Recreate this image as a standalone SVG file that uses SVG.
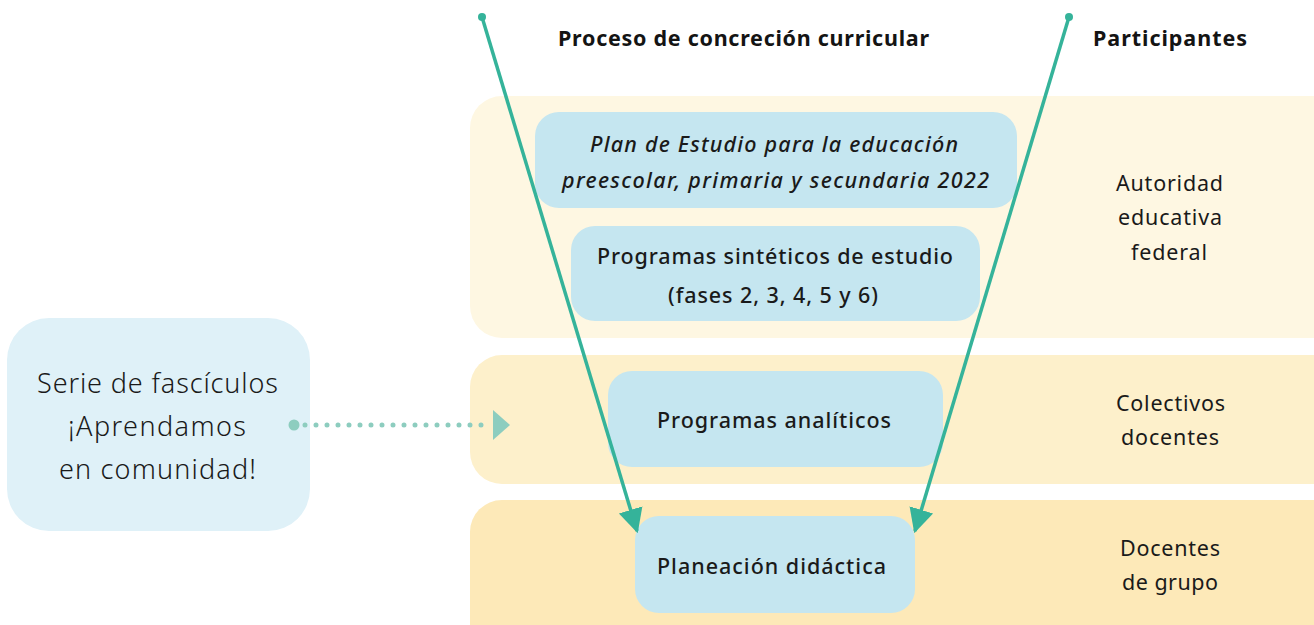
<svg xmlns="http://www.w3.org/2000/svg" width="1314" height="625" viewBox="0 0 1314 625">
<style>
.h{font-family:"Noto Sans","Liberation Sans",sans-serif;font-weight:700;font-size:21.5px;fill:#141414;text-anchor:middle}
.t{font-family:"Noto Sans","Liberation Sans",sans-serif;font-size:21.5px;fill:#1a1a1a;text-anchor:middle}
.b{font-family:"Noto Sans","Liberation Sans",sans-serif;font-weight:500;font-size:21.5px;fill:#1a1a1a;text-anchor:middle}
.i{font-family:"Noto Sans","Liberation Sans",sans-serif;font-style:italic;font-weight:500;font-size:21.5px;fill:#1a1a1a;text-anchor:middle}
.l{font-family:"Noto Sans","Liberation Sans",sans-serif;font-weight:300;font-size:27px;fill:#1a1a1a;text-anchor:middle}
.box{fill:#c5e6f0}
.line{stroke:#35b39a;stroke-width:3.5;fill:none}
</style>
<defs>
<marker id="ah" viewBox="0 0 10 10" refX="9" refY="5" markerWidth="7" markerHeight="7.5" markerUnits="strokeWidth" orient="auto">
<path d="M0,0 L10,5 L0,10 z" fill="#35b39a"/>
</marker>
</defs>
<g id="bands">
<rect x="470" y="96" width="880" height="242" rx="32" fill="#fef7e2"/>
<rect x="470" y="355" width="880" height="129" rx="32" fill="#fdf0cb"/>
<rect x="470" y="500" width="880" height="160" rx="32" fill="#fde9b8"/>
</g>
<text class="h" x="743.5" y="46" textLength="371" lengthAdjust="spacing">Proceso de concreción curricular</text>
<text class="h" x="1170" y="46" textLength="154" lengthAdjust="spacing">Participantes</text>
<g id="n1"><rect class="box" x="535" y="112" width="482" height="96" rx="24"/>
<text class="i" x="774" y="152" textLength="368" lengthAdjust="spacing">Plan de Estudio para la educación</text>
<text class="i" x="775.5" y="188" textLength="427" lengthAdjust="spacing">preescolar, primaria y secundaria 2022</text></g>
<g id="n2"><rect class="box" x="571" y="226" width="409" height="95" rx="24"/>
<text class="b" x="775" y="264" textLength="356" lengthAdjust="spacing">Programas sintéticos de estudio</text>
<text class="b" x="773" y="303" textLength="210" lengthAdjust="spacing">(fases 2, 3, 4, 5 y 6)</text></g>
<g id="n3"><rect class="box" x="608" y="371" width="335" height="96" rx="24"/>
<text class="b" x="774" y="428" textLength="234" lengthAdjust="spacing">Programas analíticos</text></g>
<g id="n4"><rect class="box" x="635" y="516" width="280" height="97" rx="24"/>
<text class="b" x="771.5" y="574" textLength="229" lengthAdjust="spacing">Planeación didáctica</text></g>
<g id="n5"><rect x="7" y="318" width="303" height="213" rx="42" fill="#dff1f8"/>
<text class="l" x="157.5" y="393" textLength="241" lengthAdjust="spacing">Serie de fascículos</text>
<text class="l" x="157" y="436" textLength="178" lengthAdjust="spacing">¡Aprendamos</text>
<text class="l" x="157.5" y="479" textLength="197" lengthAdjust="spacing">en comunidad!</text></g>
<g id="p1"><text class="t" x="1169.5" y="191" textLength="107" lengthAdjust="spacing">Autoridad</text><text class="t" x="1170" y="225" textLength="104" lengthAdjust="spacing">educativa</text><text class="t" x="1169" y="260" textLength="76" lengthAdjust="spacing">federal</text></g>
<g id="p2"><text class="t" x="1170.5" y="411" textLength="109" lengthAdjust="spacing">Colectivos</text><text class="t" x="1170" y="445" textLength="98" lengthAdjust="spacing">docentes</text></g>
<g id="p3"><text class="t" x="1170" y="556" textLength="100" lengthAdjust="spacing">Docentes</text><text class="t" x="1170" y="590" textLength="96" lengthAdjust="spacing">de grupo</text></g>
<g id="connectors">
<circle cx="482" cy="17" r="4" fill="#35b39a"/>
<circle cx="1069" cy="17" r="4" fill="#35b39a"/>
<line class="line" x1="482" y1="17" x2="637" y2="531" marker-end="url(#ah)"/>
<line class="line" x1="1069" y1="17" x2="915" y2="531" marker-end="url(#ah)"/>
<circle cx="294" cy="425" r="5.5" fill="#8dcdbf"/>
<line x1="305" y1="425" x2="492" y2="425" stroke="#8dcdbf" stroke-width="5" stroke-linecap="round" stroke-dasharray="0 11"/>
<path d="M493,410 L510,425 L493,440 z" fill="#8dcdbf"/>
</g>
</svg>
